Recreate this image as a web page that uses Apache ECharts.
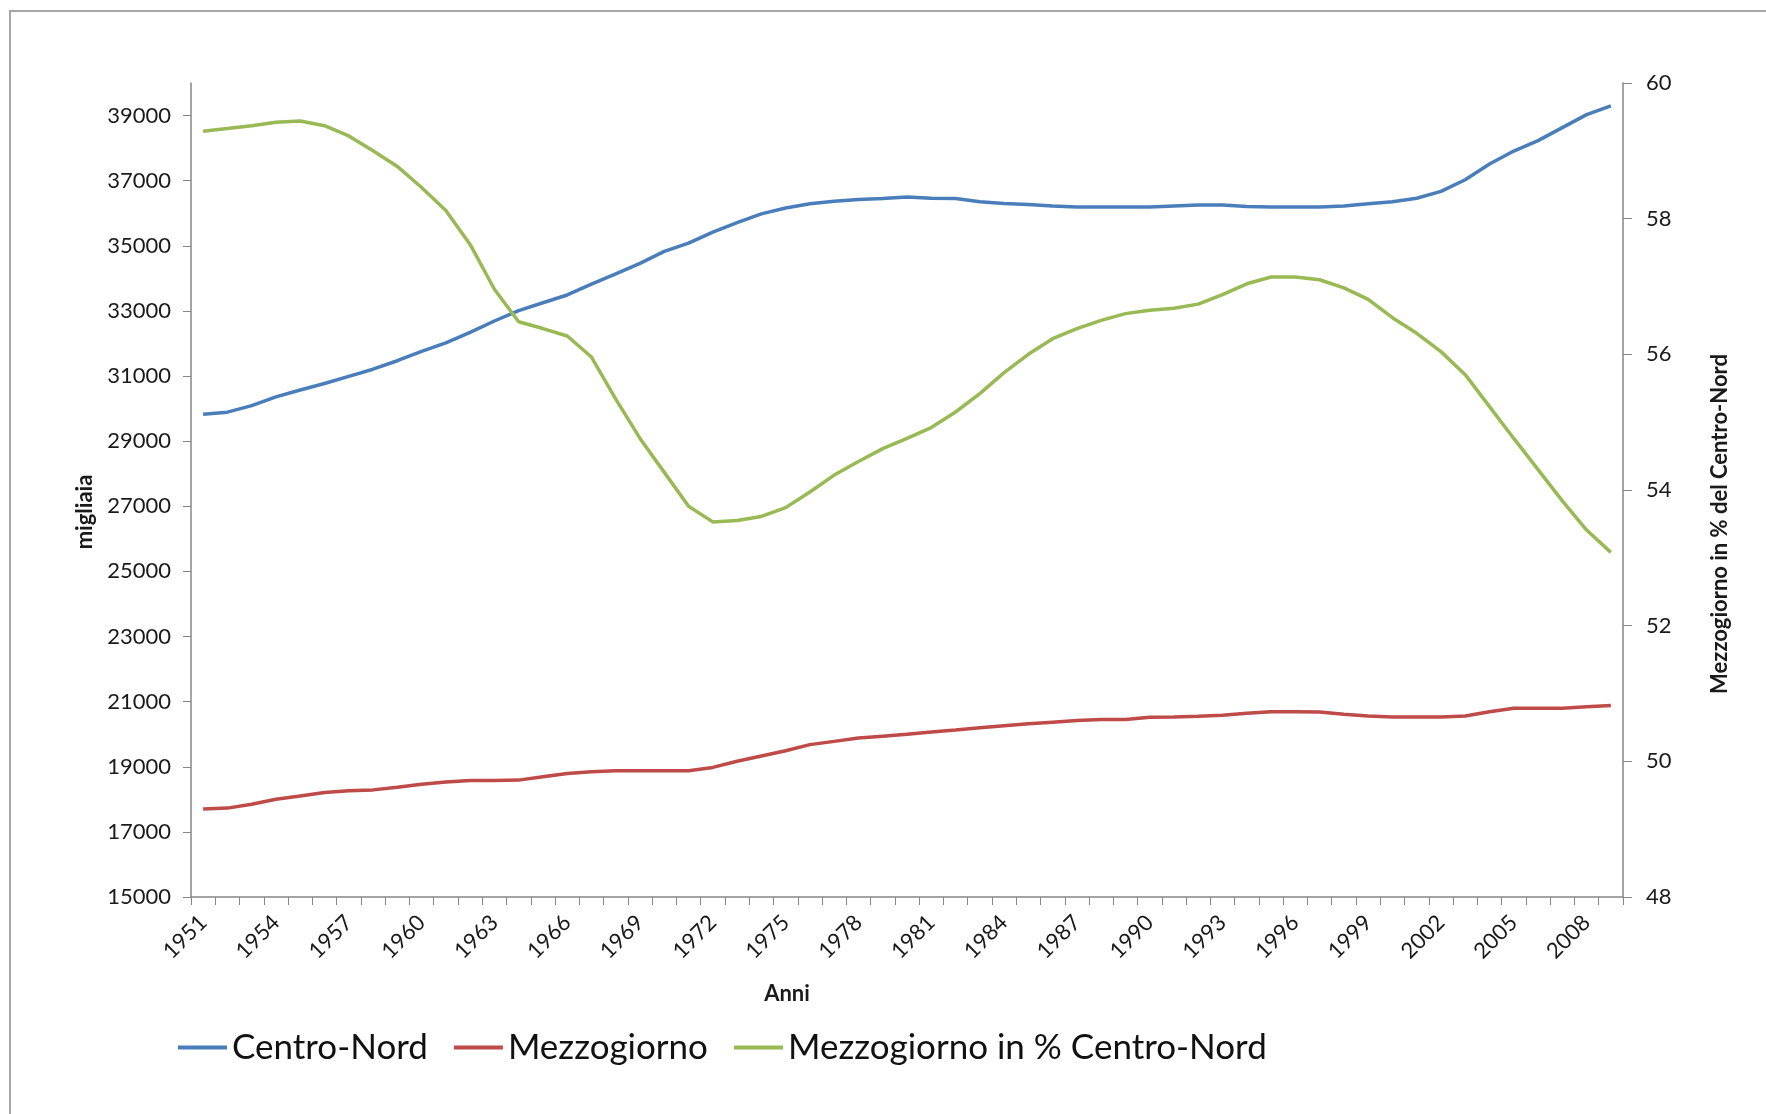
<!DOCTYPE html>
<html>
<head>
<meta charset="utf-8">
<script src="https://cdn.jsdelivr.net/npm/echarts@6/dist/echarts.min.js"></script>
<style>
  html, body { margin: 0; padding: 0; background: #fff; }
  #chart { width: 1766px; height: 1114px; }
</style>
</head>
<body>
<div id="chart"></div>
<script>
var years = ['1951','1952','1953','1954','1955','1956','1957','1958','1959','1960',
    '1961','1962','1963','1964','1965','1966','1967','1968','1969','1970',
    '1971','1972','1973','1974','1975','1976','1977','1978','1979','1980',
    '1981','1982','1983','1984','1985','1986','1987','1988','1989','1990',
    '1991','1992','1993','1994','1995','1996','1997','1998','1999','2000',
    '2001','2002','2003','2004','2005','2006','2007','2008','2009'];

var centroNord = [29830, 29890, 30090, 30360, 30570, 30770, 30990, 31210, 31470, 31760,
    32020, 32340, 32690, 33010, 33250, 33490, 33820, 34140, 34460, 34830,
    35080, 35420, 35710, 35980, 36160, 36290, 36370, 36420, 36450, 36500,
    36460, 36450, 36350, 36300, 36270, 36220, 36190, 36190, 36190, 36190,
    36220, 36250, 36250, 36210, 36190, 36190, 36190, 36220, 36290, 36350,
    36460, 36670, 37030, 37510, 37910, 38230, 38630, 39030, 39300];

var mezzogiorno = [17700, 17730, 17850, 18000, 18100, 18210, 18260, 18290, 18370, 18460,
    18530, 18580, 18580, 18590, 18690, 18790, 18850, 18880, 18880, 18880,
    18880, 18980, 19170, 19330, 19490, 19680, 19780, 19880, 19940, 20000,
    20070, 20130, 20200, 20260, 20320, 20370, 20420, 20450, 20450, 20520,
    20530, 20550, 20580, 20640, 20690, 20690, 20680, 20610, 20560, 20530,
    20530, 20530, 20560, 20690, 20800, 20800, 20800, 20840, 20880];

var mezzPerc = [59.29, 59.33, 59.37, 59.42, 59.44, 59.37, 59.22, 59.00, 58.77, 58.46,
    58.12, 57.62, 56.96, 56.48, 56.38, 56.27, 55.96, 55.34, 54.76, 54.26,
    53.76, 53.53, 53.55, 53.61, 53.74, 53.97, 54.22, 54.42, 54.61, 54.76,
    54.92, 55.15, 55.42, 55.73, 56.00, 56.23, 56.38, 56.50, 56.60, 56.65,
    56.68, 56.74, 56.88, 57.04, 57.14, 57.14, 57.10, 56.98, 56.81, 56.54,
    56.31, 56.04, 55.70, 55.23, 54.76, 54.30, 53.84, 53.41, 53.08];

var leftTicks = [15000, 17000, 19000, 21000, 23000, 25000, 27000, 29000, 31000, 33000, 35000, 37000, 39000];

var seriesNames = ['Centro-Nord', 'Mezzogiorno', 'Mezzogiorno in % Centro-Nord'];

var font = 'Lato';
var axisGray = '#868686';
var textDark = '#1a1a1a';

var myChart = echarts.init(document.getElementById('chart'));
myChart.setOption({
    backgroundColor: '#fff',
    animation: false,
    graphic: [{
        type: 'rect',
        shape: { x: 10, y: 11, width: 1800, height: 1200 },
        style: { fill: 'none', stroke: '#a6a6a6', lineWidth: 2 }
    }],
    grid: {
        left: 191,
        right: 143,
        top: 83,
        bottom: 217,
        containLabel: false
    },
    legend: {
        data: seriesNames,
        left: 173,
        top: 1025,
        icon: 'rect',
        itemWidth: 49,
        itemHeight: 4,
        itemGap: 26,
        textStyle: { fontFamily: font, fontSize: 35, color: '#111' }
    },
    xAxis: [{
        type: 'category',
        data: years,
        boundaryGap: true,
        name: 'Anni',
        nameLocation: 'middle',
        nameGap: 86,
        nameTextStyle: { fontFamily: font, fontSize: 22, fontWeight: 'bold', color: textDark, padding: [0, 240, 0, 0] },
        axisLine: { lineStyle: { color: axisGray, width: 1.5 } },
        axisTick: { show: true, interval: 0, length: 8, alignWithLabel: false, lineStyle: { color: axisGray } },
        axisLabel: { interval: 2, rotate: 45, margin: 22, fontFamily: font, fontSize: 22, color: textDark },
        splitLine: { show: false }
    }],
    yAxis: [{
        type: 'value',
        position: 'left',
        min: 15000,
        max: 40000,
        interval: 1000,
        name: 'migliaia',
        nameLocation: 'middle',
        nameRotate: 90,
        nameGap: 86,
        nameTextStyle: { fontFamily: font, fontSize: 22, fontWeight: 'bold', color: textDark, padding: [0, 44, 0, 0] },
        axisLine: { show: true, lineStyle: { color: axisGray, width: 1.5 } },
        axisTick: { show: true, length: 8, customValues: leftTicks, lineStyle: { color: axisGray } },
        axisLabel: {
            customValues: leftTicks,
            margin: 20,
            fontFamily: font,
            fontSize: 22,
            color: textDark,
            formatter: function(v) { return String(v); }
        },
        splitLine: { show: false }
    }, {
        type: 'value',
        position: 'right',
        min: 48,
        max: 60,
        interval: 2,
        name: 'Mezzogiorno in % del Centro-Nord',
        nameLocation: 'middle',
        nameRotate: 90,
        nameGap: 86,
        nameTextStyle: { fontFamily: font, fontSize: 22, fontWeight: 'bold', color: textDark, padding: [0, 68, 0, 0] },
        axisLine: { show: true, lineStyle: { color: axisGray, width: 1.5 } },
        axisTick: { show: true, length: 9, lineStyle: { color: axisGray } },
        axisLabel: { margin: 23, fontFamily: font, fontSize: 22, color: textDark },
        splitLine: { show: false }
    }],
    series: [{
        name: seriesNames[0],
        type: 'line',
        yAxisIndex: 0,
        data: centroNord,
        symbol: 'none',
        itemStyle: { color: '#4A7EBB' },
        lineStyle: { color: '#4A7EBB', width: 3.5 }
    }, {
        name: seriesNames[1],
        type: 'line',
        yAxisIndex: 0,
        data: mezzogiorno,
        symbol: 'none',
        itemStyle: { color: '#BE4B48' },
        lineStyle: { color: '#BE4B48', width: 3.5 }
    }, {
        name: seriesNames[2],
        type: 'line',
        yAxisIndex: 1,
        data: mezzPerc,
        symbol: 'none',
        itemStyle: { color: '#98B954' },
        lineStyle: { color: '#98B954', width: 3.5 }
    }]
});
</script>
</body>
</html>
